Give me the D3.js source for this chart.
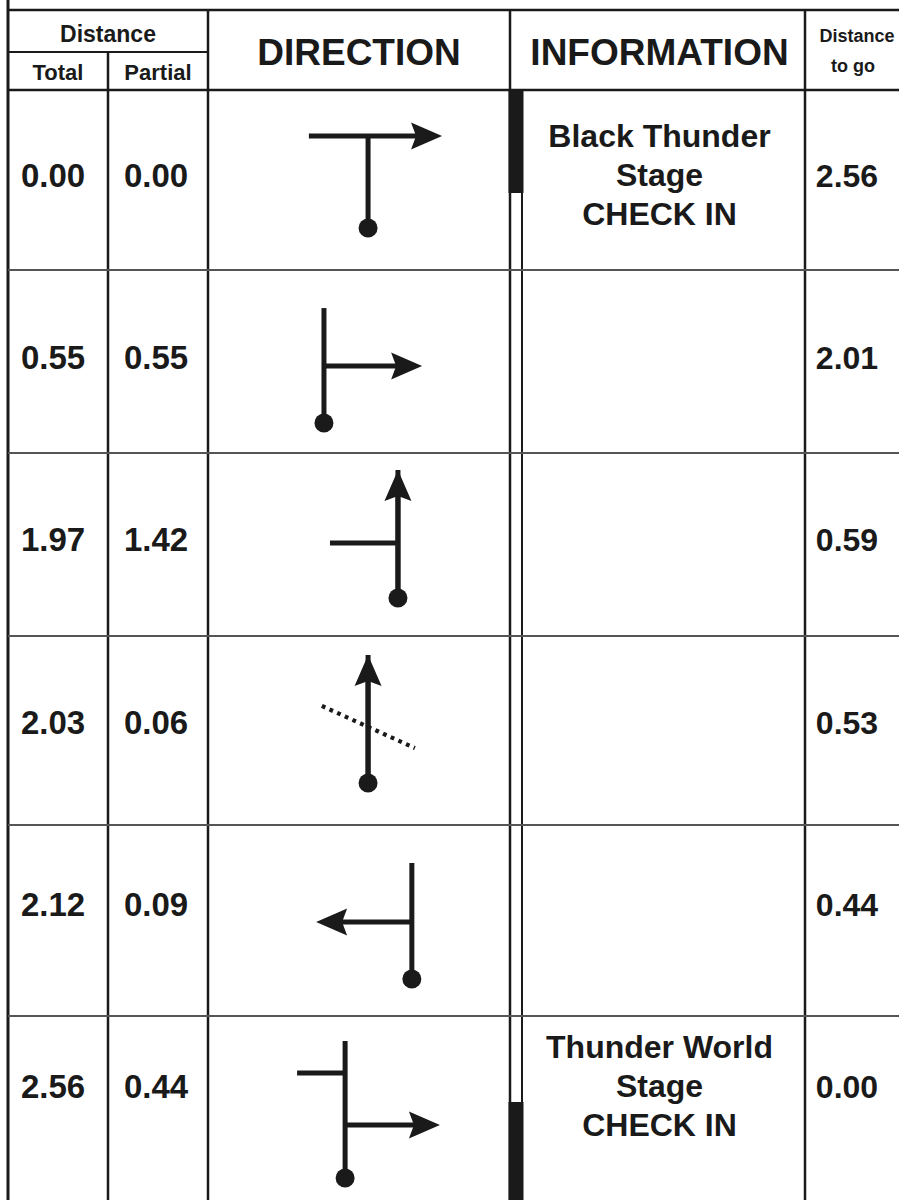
<!DOCTYPE html>
<html>
<head>
<meta charset="utf-8">
<script src="https://cdn.jsdelivr.net/npm/d3@7"></script>
<style>
  html, body { margin: 0; padding: 0; background: #fff; }
  svg { display: block; }
  text { font-family: "Liberation Sans", Arimo, Arial, Helvetica, sans-serif; font-weight: bold; fill: #1a1a1a; }
</style>
</head>
<body>
<script>
'use strict';
(function () {
  // roadbook values
  let totals = ["0.00", "0.55", "1.97", "2.03", "2.12", "2.56"];
  let partials = ["0.00", "0.55", "1.42", "0.06", "0.09", "0.44"];
  let toGo = ["2.56", "2.01", "0.59", "0.53", "0.44", "0.00"];
  let infoLines = [
    ["Black Thunder", "Stage", "CHECK IN"],
    [], [], [], [],
    ["Thunder World", "Stage", "CHECK IN"]
  ];
  // direction tulips on a 0..10 grid of the cell: tail [x, yTop, yDot], arrow/stubs as [x1,y1,x2,y2]
  let tails = [[5.3, 2.56, 7.67], [3.84, 2.08, 8.36], [6.29, 0.93, 7.92], [5.3, 1.01, 7.78], [6.75, 1.99, 8.06], [4.54, 1.36, 8.8]];
  let arrows = [[3.34, 2.56, 7.75, 2.56], [3.84, 5.25, 7.09, 5.25], [6.29, 7.92, 6.29, 0.93], [5.3, 7.78, 5.3, 1.01], [6.75, 5.08, 3.58, 5.08], [4.54, 5.92, 7.68, 5.92]];
  let stubs = [[], [], [[6.29, 4.92, 4.04, 4.92]], [], [], [[4.54, 3.1, 2.95, 3.1]]];
  let dotted = [[], [], [], [[3.77, 3.7, 6.85, 5.93]], [], []];
  let checkBars = ["top", null, null, null, null, "bottom"];

  const W = 899, H = 1200;
  const ink = "#1a1a1a";
  const rowEdges = [90, 270, 453, 636, 825, 1016, 1200];
  const textTop = 175, textPitch = 182.2;
  const cols = { left: 8, total: 108, partial: 208, info: 510, info2: 522, togo: 805, right: 905 };

  window.onload = function () {
    let svg = d3.select('body').append('svg')
      .attr('width', W).attr('height', H);

    drawGrid(svg);
    drawHeader(svg);
    drawRows(svg);
  };

  function drawGrid(svg) {
    let g = svg.append('g').attr('stroke', ink).attr('fill', 'none');
    // outer frame
    g.append('line').attr('x1', cols.left).attr('x2', W).attr('y1', 10).attr('y2', 10).attr('stroke-width', 2.5);
    g.append('line').attr('x1', cols.left).attr('x2', cols.left).attr('y1', 0).attr('y2', H).attr('stroke-width', 3);
    g.append('line').attr('x1', cols.left).attr('x2', cols.partial).attr('y1', 52).attr('y2', 52).attr('stroke-width', 2);
    g.append('line').attr('x1', cols.left).attr('x2', W).attr('y1', 90).attr('y2', 90).attr('stroke-width', 2.5);

    // vertical column lines
    g.append('line').attr('x1', cols.total).attr('x2', cols.total).attr('y1', 52).attr('y2', H).attr('stroke-width', 2.5);
    [cols.partial, cols.info, cols.togo].forEach((x) => {
      g.append('line').attr('x1', x).attr('x2', x).attr('y1', 10).attr('y2', H).attr('stroke-width', 2.5);
    });
    g.append('line').attr('x1', cols.info2).attr('x2', cols.info2).attr('y1', 90).attr('y2', H).attr('stroke-width', 2);

    // row separators
    rowEdges.slice(1, -1).forEach((y) => {
      g.append('line').attr('x1', cols.left).attr('x2', W).attr('y1', y).attr('y2', y)
        .attr('stroke', '#555').attr('stroke-width', 1.8);
    });

    // check-in bars between the double lines
    checkBars.forEach((pos, i) => {
      if (!pos) return;
      let top = rowEdges[i], bot = rowEdges[i + 1];
      let y0 = pos === "top" ? top : bot - 98;
      let y1 = pos === "top" ? top + 103 : bot;
      svg.append('rect').attr('x', cols.info - 1.5).attr('y', y0)
        .attr('width', cols.info2 - cols.info + 3).attr('height', y1 - y0).attr('fill', ink);
    });
  }

  function drawHeader(svg) {
    let mid = (a, b) => (a + b) / 2;
    svg.append('text').attr('x', mid(cols.left, cols.partial)).attr('y', 42)
      .attr('text-anchor', 'middle').style('font-size', '23px').text('Distance');
    svg.append('text').attr('x', mid(cols.left, cols.total)).attr('y', 80)
      .attr('text-anchor', 'middle').style('font-size', '22px').text('Total');
    svg.append('text').attr('x', mid(cols.total, cols.partial)).attr('y', 80)
      .attr('text-anchor', 'middle').style('font-size', '22px').text('Partial');
    svg.append('text').attr('x', mid(cols.partial, cols.info)).attr('y', 65)
      .attr('text-anchor', 'middle').style('font-size', '37px').text('DIRECTION');
    svg.append('text').attr('x', mid(cols.info, cols.togo) + 2).attr('y', 65)
      .attr('text-anchor', 'middle').style('font-size', '37px').text('INFORMATION');
    svg.append('text').attr('x', 857).attr('y', 42)
      .attr('text-anchor', 'middle').style('font-size', '18px').text('Distance');
    svg.append('text').attr('x', 853).attr('y', 72)
      .attr('text-anchor', 'middle').style('font-size', '18px').text('to go');
  }

  function drawRows(svg) {
    let mid = (a, b) => (a + b) / 2;
    let xs = d3.scaleLinear().domain([0, 10]).range([cols.partial, cols.info]);

    totals.forEach((t, i) => {
      let top = rowEdges[i], bot = rowEdges[i + 1];
      let cy = textTop + i * textPitch;
      let ys = d3.scaleLinear().domain([0, 10]).range([top, bot]);

      svg.append('text').attr('x', mid(cols.left, cols.total) - 5).attr('y', cy + 12)
        .attr('text-anchor', 'middle').style('font-size', '33px').text(t);
      svg.append('text').attr('x', mid(cols.total, cols.partial) - 2).attr('y', cy + 12)
        .attr('text-anchor', 'middle').style('font-size', '33px').text(partials[i]);
      svg.append('text').attr('x', 847).attr('y', cy + 12)
        .attr('text-anchor', 'middle').style('font-size', '32px').text(toGo[i]);

      // information block
      let lines = infoLines[i];
      lines.forEach((s, k) => {
        svg.append('text').attr('x', mid(cols.info2, cols.togo) - 4)
          .attr('y', cy + 11 + (k - (lines.length - 1) / 2) * 39)
          .attr('text-anchor', 'middle').style('font-size', '32px').text(s);
      });

      drawTulip(svg, i, xs, ys);
    });
  }

  function drawTulip(svg, i, xs, ys) {
    let g = svg.append('g');
    let tl = tails[i];
    g.append('line').attr('x1', xs(tl[0])).attr('x2', xs(tl[0])).attr('y1', ys(tl[1])).attr('y2', ys(tl[2]))
      .attr('stroke', ink).attr('stroke-width', 5);
    g.append('circle').attr('cx', xs(tl[0])).attr('cy', ys(tl[2])).attr('r', 9.5).attr('fill', ink);

    stubs[i].forEach((s) => {
      g.append('line').attr('x1', xs(s[0])).attr('y1', ys(s[1])).attr('x2', xs(s[2])).attr('y2', ys(s[3]))
        .attr('stroke', ink).attr('stroke-width', 5);
    });

    dotted[i].forEach((s) => {
      g.append('line').attr('x1', xs(s[0])).attr('y1', ys(s[1])).attr('x2', xs(s[2])).attr('y2', ys(s[3]))
        .attr('stroke', ink).attr('stroke-width', 4.2).attr('stroke-dasharray', '3.8,4.6');
    });

    // arrow: shaft then barbed head
    let a = arrows[i];
    let x1 = xs(a[0]), y1 = ys(a[1]), x2 = xs(a[2]), y2 = ys(a[3]);
    let ang = Math.atan2(y2 - y1, x2 - x1);
    let headLen = 31, headHalf = 13.5, notch = 5;
    let bx = x2 - Math.cos(ang) * (headLen - notch - 1), by = y2 - Math.sin(ang) * (headLen - notch - 1);
    g.append('line').attr('x1', x1).attr('y1', y1).attr('x2', bx).attr('y2', by)
      .attr('stroke', ink).attr('stroke-width', 5);
    let head = [[0, 0], [-headLen, -headHalf], [-headLen + notch, 0], [-headLen, headHalf]];
    g.append('path')
      .attr('d', 'M' + head.map((p) => p.join(',')).join('L') + 'Z')
      .attr('transform', 'translate(' + x2 + ',' + y2 + ') rotate(' + (ang * 180 / Math.PI) + ')')
      .attr('fill', ink);
  }
})();
</script>
</body>
</html>
